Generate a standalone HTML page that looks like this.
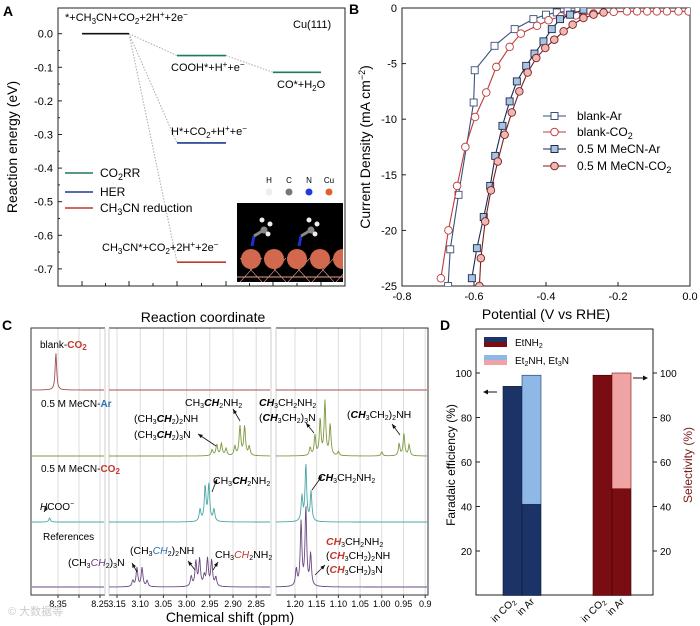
<!DOCTYPE html>
<html><head><meta charset="utf-8"><style>
body{margin:0;background:#fff}
svg{display:block;font-family:"Liberation Sans",sans-serif}
</style></head><body>
<svg id="fig" width="700" height="626" viewBox="0 0 700 626" xmlns="http://www.w3.org/2000/svg">
<rect width="700" height="626" fill="#fff"/>
<g id="A"></g>
<g id="B"></g>
<g id="C"></g>
<g id="D"></g>
</svg>
<script>
// ===== Panel A data =====
const aStates = ["*+CH3CN+CO2+2H++2e-","COOH*+H++e-","CO*+H2O","H*+CO2+H++e-","CH3CN*+CO2+2H++2e-"];
const aSlot = [0, 1, 2, 1, 1];
const aEnergy = [0.0, -0.065, -0.115, -0.325, -0.68];
const aPath = ["ref","CO2RR","CO2RR","HER","CH3CN"];
const aTicks = [0.0,-0.1,-0.2,-0.3,-0.4,-0.5,-0.6,-0.7];
// ===== Panel B data =====
const bTicksX = [-0.8,-0.6,-0.4,-0.2,0.0];
const bTicksY = [0,-5,-10,-15,-20,-25];
const blankArV = [-0.672,-0.666,-0.643,-0.601,-0.598,-0.543,-0.487,-0.435,-0.40,-0.37,-0.34,-0.31];
const blankArJ = [-25,-21.7,-16.8,-8.5,-5.6,-3.4,-1.9,-1.0,-0.6,-0.4,-0.3,-0.2];
const blankCO2V = [-0.692,-0.671,-0.647,-0.624,-0.597,-0.566,-0.538,-0.501,-0.470,-0.425,-0.393,-0.358,-0.317,-0.268,-0.212,-0.175,-0.147,-0.119,-0.092,-0.064,-0.032,-0.004];
const blankCO2J = [-24.3,-20.0,-16.0,-12.5,-9.8,-7.6,-5.3,-3.5,-2.3,-1.6,-1.1,-0.75,-0.66,-0.5,-0.35,-0.3,-0.3,-0.3,-0.3,-0.3,-0.3,-0.3];
const mecnArV = [-0.606,-0.592,-0.573,-0.555,-0.541,-0.521,-0.501,-0.481,-0.455,-0.432,-0.407,-0.384,-0.361,-0.333,-0.296];
const mecnArJ = [-24.3,-21.6,-18.8,-16.0,-13.3,-10.6,-8.4,-6.6,-5.2,-4.1,-3.0,-1.9,-1.0,-0.6,-0.15];
const mecnCO2V = [-0.585,-0.581,-0.569,-0.553,-0.534,-0.515,-0.495,-0.474,-0.451,-0.427,-0.402,-0.377,-0.351,-0.326,-0.296,-0.268,-0.240];
const mecnCO2J = [-25,-22.5,-19.2,-16.4,-13.8,-11.4,-9.4,-7.5,-5.8,-4.5,-3.6,-2.85,-2.1,-1.5,-0.9,-0.6,-0.4];
// ===== Panel C data =====
const cTicksSeg1 = [8.35,8.30,8.25];
const cTicksSeg2 = [3.15,3.10,3.05,3.00,2.95,2.90,2.85];
const cTicksSeg3 = [1.20,1.15,1.10,1.05,1.00,0.95,0.90];
const blankCO2Peaks = [8.355];
const blankCO2Heights = [37];
const mecnArPeaks = [2.945,2.935,2.925,2.915,2.896,2.885,2.875,2.865,1.165,1.154,1.142,1.131,1.119,1.10,1.00,0.96,0.949,0.937];
const mecnArHeights = [6,11,12,7,9,29,29,9,8,20,36,54,31,4,4,12,22,11];
const mecnCO2Peaks = [8.37,2.971,2.960,2.952,2.941,1.184,1.175,1.163];
const mecnCO2Heights = [4,12,35,37,12,25,57,30];
const refPeaks = [3.116,3.107,3.096,3.085,2.99,2.98,2.972,2.962,2.955,2.946,2.937,1.197,1.186,1.175,1.164];
const refHeights = [6,19,19,6,10,25,27,10,27,26,9,17,64,79,32];
// ===== Panel D data =====
const dCats = ["in CO2","in Ar"];
const feEtNH2 = [94, 41];
const feOthers = [0, 58];
const selEtNH2 = [99, 48];
const selOthers = [0, 52];
const dTicks = [20,40,60,80,100];

const NS="http://www.w3.org/2000/svg";
function el(parent, tag, attrs, text){
  const e=document.createElementNS(NS,tag);
  for(const k in attrs) e.setAttribute(k,attrs[k]);
  if(text!==undefined) e.innerHTML=text;
  parent.appendChild(e); return e;
}
const A=document.getElementById('A'),B=document.getElementById('B'),C=document.getElementById('C'),D=document.getElementById('D');

// ================= PANEL A =================
(function(){
  const yA=v=>33.7-v*336;
  const slotX=[[82,129],[177,226],[273,321]];
  let t=el(A,'text',{x:3,y:16,'font-size':14,'font-weight':'bold'},'A');
  
  let f=el(A,'rect',{x:58,y:8,width:287,height:278,fill:'none',stroke:'#222','stroke-width':1});
  
  aTicks.forEach((v,i)=>{
    const y=yA(v);
    const tk=el(A,'line',{x1:58,x2:62,y1:y,y2:y,stroke:'#222'});
    
    const lb=el(A,'text',{x:53,y:y+4,'font-size':11,'text-anchor':'end'},v.toFixed(1));
    
    if(i<aTicks.length-1){const m=el(A,'line',{x1:58,x2:60,y1:y+16.8,y2:y+16.8,stroke:'#222'});}
  });
  [82,105.5,129,153,177,201.5,226,249.5,273,297,321].forEach((x,i)=>{
    const tk=el(A,'line',{x1:x,x2:x,y1:286,y2:i%2?283:281,stroke:'#222'});
    
  });
  let yt=el(A,'text',{x:17,y:147,'font-size':14,'text-anchor':'middle',transform:'rotate(-90 17 147)'},'Reaction energy (eV)');
  
  let xt=el(A,'text',{x:203,y:322,'font-size':14,'text-anchor':'middle'},'Reaction coordinate');
  
  const col={ref:'#111',CO2RR:'#1f7a55',HER:'#1e3c8c',CH3CN:'#c0392b'};
  const conn=[[0,1],[1,2],[0,3],[0,4]];
  conn.forEach(([a,b])=>{
    const l=el(A,'line',{x1:slotX[aSlot[a]][1],y1:yA(aEnergy[a]),x2:slotX[aSlot[b]][0],y2:yA(aEnergy[b]),stroke:'#aaa','stroke-dasharray':'1.5 1.5','stroke-width':1});
    
  });
  aEnergy.forEach((e,i)=>{
    const s=slotX[aSlot[i]];
    const l=el(A,'line',{x1:s[0],x2:s[1],y1:yA(e),y2:yA(e),stroke:col[aPath[i]],'stroke-width':1.6});
    
  });
  const labs=[[65,21,'start','*+CH<tspan font-size="8" dy="3">3</tspan><tspan dy="-3">CN+CO</tspan><tspan font-size="8" dy="3">2</tspan><tspan dy="-3">+2H</tspan><tspan font-size="8" dy="-4">+</tspan><tspan dy="4">+2e</tspan><tspan font-size="8" dy="-4">−</tspan>'],
    [171,71,'start','COOH*+H<tspan font-size="8" dy="-4">+</tspan><tspan dy="4">+e</tspan><tspan font-size="8" dy="-4">−</tspan>'],
    [277,88,'start','CO*+H<tspan font-size="8" dy="3">2</tspan><tspan dy="-3">O</tspan>'],
    [171,135,'start','H*+CO<tspan font-size="8" dy="3">2</tspan><tspan dy="-3">+H</tspan><tspan font-size="8" dy="-4">+</tspan><tspan dy="4">+e</tspan><tspan font-size="8" dy="-4">−</tspan>'],
    [102,251,'start','CH<tspan font-size="8" dy="3">3</tspan><tspan dy="-3">CN*+CO</tspan><tspan font-size="8" dy="3">2</tspan><tspan dy="-3">+2H</tspan><tspan font-size="8" dy="-4">+</tspan><tspan dy="4">+2e</tspan><tspan font-size="8" dy="-4">−</tspan>'],
    [293,28,'start','Cu(111)']];
  labs.forEach(l=>{const t=el(A,'text',{x:l[0],y:l[1],'font-size':11,'text-anchor':l[2]},l[3]);});
  const leg=[[173,'#1f7a55','CO<tspan font-size="9" dy="3">2</tspan><tspan dy="-3">RR</tspan>'],[192,'#1e3c8c','HER'],[208,'#c0392b','CH<tspan font-size="9" dy="3">3</tspan><tspan dy="-3">CN reduction</tspan>']];
  leg.forEach(g=>{
    const l=el(A,'line',{x1:65,x2:93,y1:g[0],y2:g[0],stroke:g[1],'stroke-width':1.6});
    const t=el(A,'text',{x:100,y:g[0]+4,'font-size':12},g[2]);
  });
  [['H',269,'#eee'],['C',289,'#777'],['N',309,'#1e3cdc'],['Cu',329,'#e0622a']].forEach(a=>{
    const t=el(A,'text',{x:a[1],y:183,'font-size':8,'text-anchor':'middle'},a[0]);
    const c=el(A,'circle',{cx:a[1],cy:192,r:3.5,fill:a[2]});
  });
  const cp=el(A,'clipPath',{id:'insclip'});el(cp,'rect',{x:237,y:203,width:106,height:79});
  const ins=el(A,'g',{'clip-path':'url(#insclip)'});
  el(ins,'rect',{x:237,y:203,width:106,height:79,fill:'#000'});
  for(let i=0;i<5;i++){el(ins,'line',{x1:240+i*24,y1:282,x2:262+i*24,y2:258,stroke:'#e8a090','stroke-width':0.6});el(ins,'line',{x1:262+i*24,y1:282,x2:240+i*24,y2:258,stroke:'#e8a090','stroke-width':0.6});}
  el(ins,'line',{x1:237,y1:277,x2:343,y2:277,stroke:'#e8a090'});
  [251,274,297,320,343].forEach(x=>el(ins,'circle',{cx:x,cy:259,r:10,fill:'#d2694f'}));
  [[252,236],[299,236]].forEach(([x,y])=>{
    el(ins,'line',{x1:x,y1:y+10,x2:x+2,y2:y,stroke:'#2030d0','stroke-width':3});
    el(ins,'line',{x1:x+2,y1:y,x2:x+12,y2:y-6,stroke:'#888','stroke-width':3});
    el(ins,'circle',{cx:x+12,cy:y-6,r:3.5,fill:'#888'});
    el(ins,'circle',{cx:x+10,cy:y-16,r:2.5,fill:'#eee'});el(ins,'circle',{cx:x+18,cy:y-12,r:2.5,fill:'#eee'});el(ins,'circle',{cx:x+16,cy:y-2,r:2.5,fill:'#eee'});
  });
})();

// ================= PANEL B =================
(function(){
  const xB=v=>402+(v+0.8)*360, yB=j=>8-j*11.12;
  let t=el(B,'text',{x:349,y:14,'font-size':14,'font-weight':'bold'},'B');
  const f=el(B,'rect',{x:402,y:8,width:288,height:278,fill:'none',stroke:'#222'});
  bTicksX.forEach(v=>{const x=xB(v);
    const tk=el(B,'line',{x1:x,x2:x,y1:286,y2:282,stroke:'#222'});
    const lb=el(B,'text',{x:x,y:300,'font-size':11,'text-anchor':'middle'},v.toFixed(1));});
  bTicksY.forEach(v=>{const y=yB(v);
    const tk=el(B,'line',{x1:402,x2:406,y1:y,y2:y,stroke:'#222'});
    const lb=el(B,'text',{x:397,y:y+4,'font-size':11,'text-anchor':'end'},String(v));});
  let yt=el(B,'text',{x:370,y:147,'font-size':14,'text-anchor':'middle',transform:'rotate(-90 370 147)'},'Current Density (mA cm<tspan font-size="9" dy="-5">−2</tspan><tspan dy="5">)</tspan>');
  
  let xt=el(B,'text',{x:546,y:319,'font-size':14,'text-anchor':'middle'},'Potential (V vs RHE)');
  const clip=el(B,'clipPath',{id:'bclip'});el(clip,'rect',{x:402,y:8,width:288,height:278});
  const series=[
    ['blank-ar',blankArV,blankArJ,'#3a4f7a','#fff','sq'],
    ['blank-co2',blankCO2V,blankCO2J,'#c03a3a','#fff','ci'],
    ['mecn-ar',mecnArV,mecnArJ,'#1a2a50','#a9c4e0','sq'],
    ['mecn-co2',mecnCO2V,mecnCO2J,'#7a1e1e','#f0b8b4','ci']];
  series.forEach(s=>{
    const g=el(B,'g',{'clip-path':'url(#bclip)'});
    const pts=s[1].map((v,i)=>xB(v)+','+yB(s[2][i])).join(' ');
    const pl=el(g,'polyline',{points:pts,fill:'none',stroke:s[3],'stroke-width':1.1});
    s[1].forEach((v,i)=>{const x=xB(v),y=yB(s[2][i]);let m;
      if(s[5]==='sq') m=el(g,'rect',{x:x-3.5,y:y-3.5,width:7,height:7,fill:s[4],stroke:s[3],'stroke-width':0.9});
      else m=el(g,'circle',{cx:x,cy:y,r:3.8,fill:s[4],stroke:s[3],'stroke-width':0.9});
      });
  });
  const leg=[[116,'blank-Ar',0],[132,'blank-CO<tspan font-size="9" dy="3">2</tspan>',1],[149,'0.5 M MeCN-Ar',2],[166,'0.5 M MeCN-CO<tspan font-size="9" dy="3">2</tspan>',3]];
  leg.forEach(l=>{const s=series[l[2]];
    const g=el(B,'g',{});
    el(g,'line',{x1:543,x2:566,y1:l[0],y2:l[0],stroke:s[3],'stroke-width':1.1});
    if(s[5]==='sq') el(g,'rect',{x:551,y:l[0]-3.5,width:7,height:7,fill:s[4],stroke:s[3]});else el(g,'circle',{cx:554.5,cy:l[0],r:3.8,fill:s[4],stroke:s[3]});
    el(g,'text',{x:577,y:l[0]+4,'font-size':12},l[1]);});
})();

// ================= PANEL C =================
(function(){
  let t=el(C,'text',{x:2,y:330,'font-size':14,'font-weight':'bold'},'C');
  const px=p=>{ if(p>=8) return 58+(8.35-p)/0.1*42; if(p>=2.7) return 117+(3.15-p)/0.05*23.2; return 295+(1.20-p)/0.05*21.7; };
  const segs=[[31,105,8.42,8.22],[108,271,3.19,2.80],[275,428,1.23,0.89]];
  [...cTicksSeg1,...cTicksSeg2,...cTicksSeg3].forEach(p=>{const x=px(p);
    const g=el(C,'line',{x1:x,x2:x,y1:328,y2:595,stroke:'#ddd','stroke-width':1});});
  const f=el(C,'rect',{x:31,y:328,width:397,height:267,fill:'none',stroke:'#333'});
  [[106,107],[272,274]].forEach(b=>{const r=el(C,'rect',{x:b[0]-1,y:326,width:b[1]-b[0]+3,height:272,fill:'#fff'});
    el(C,'line',{x1:b[0]-1,x2:b[0]-1,y1:328,y2:595,stroke:'#ccc'});el(C,'line',{x1:b[1]+2,x2:b[1]+2,y1:328,y2:595,stroke:'#ccc'});});
  const tickLab=(arr)=>arr.forEach((p,i)=>{const x=px(p);
    const tk=el(C,'line',{x1:x,x2:x,y1:595,y2:598,stroke:'#333'});
    if(!(arr===cTicksSeg1&&i===1)){const lb=el(C,'text',{x:x,y:607,'font-size':9,'text-anchor':'middle'},p.toFixed(2).replace('0.90','0.9'));}});
  tickLab(cTicksSeg1);tickLab(cTicksSeg2);tickLab(cTicksSeg3);
  let xt=el(C,'text',{x:230,y:622,'font-size':14,'text-anchor':'middle'},'Chemical shift (ppm)');
  const spectra=[['blank-co2',blankCO2Peaks,blankCO2Heights,390,'#a0524f'],['mecn-ar',mecnArPeaks,mecnArHeights,456,'#7d9a40'],['mecn-co2',mecnCO2Peaks,mecnCO2Heights,522,'#4aa8a4'],['references',refPeaks,refHeights,587,'#6a4a80']];
  const w=0.0022;
  spectra.forEach(s=>{
    const g=el(C,'g',{});
    segs.forEach(sg=>{
      const pts=[];
      for(let x=sg[0]+1;x<=sg[1]-1;x+=0.5){
        const pp = sg[2]>5 ? 8.35-(x-58)/42*0.1 : (sg[2]>2.5 ? 3.15-(x-117)/23.2*0.05 : 1.20-(x-295)/21.7*0.05);
        let y=0; s[1].forEach((pk,i)=>{y+=s[2][i]/(1+Math.pow((pp-pk)/w,2));});
        pts.push(x.toFixed(1)+','+(s[3]-y).toFixed(1));
      }
      el(g,'polyline',{points:pts.join(' '),fill:'none',stroke:s[4],'stroke-width':0.9});
    });
  });
  const L=(x,y,html,size,name)=>{const t=el(C,'text',{x:x,y:y,'font-size':size||10.5},html);};
  const s3='<tspan font-size="7" dy="2">3</tspan><tspan dy="-2">',s2='<tspan font-size="7" dy="2">2</tspan><tspan dy="-2">';
  L(40,348,'blank-<tspan fill="#c0392b" font-weight="bold">CO</tspan><tspan fill="#c0392b" font-weight="bold" font-size="8" dy="2">2</tspan>',10,'c-label-blank-co2');
  L(41,407,'0.5 M MeCN-<tspan fill="#2a6fb0" font-weight="bold">Ar</tspan>',10,'c-label-mecn-ar');
  L(41,472,'0.5 M MeCN-<tspan fill="#c0392b" font-weight="bold">CO</tspan><tspan fill="#c0392b" font-weight="bold" font-size="8" dy="2">2</tspan>',10,'c-label-mecn-co2');
  L(40,510,'<tspan font-style="italic">H</tspan>COO<tspan font-size="7" dy="-4">−</tspan>',10,'c-label-hcoo');
  L(43,540,'References',10,'c-label-references');
  L(185,406,'CH'+s3+'<tspan font-weight="bold" font-style="italic">CH</tspan></tspan>'+s2+'NH</tspan>'+s2+'</tspan>');
  L(134,422,'(CH'+s3+'<tspan font-weight="bold" font-style="italic">CH</tspan></tspan>'+s2+')</tspan>'+s2+'NH</tspan>');
  L(134,438,'(CH'+s3+'<tspan font-weight="bold" font-style="italic">CH</tspan></tspan>'+s2+')</tspan>'+s3+'N</tspan>');
  L(259,406,'<tspan font-weight="bold" font-style="italic">CH</tspan>'+s3+'CH</tspan>'+s2+'NH</tspan>'+s2+'</tspan>');
  L(259,421,'(<tspan font-weight="bold" font-style="italic">CH</tspan>'+s3+'CH</tspan>'+s2+')</tspan>'+s3+'N</tspan>');
  L(347,418,'(<tspan font-weight="bold" font-style="italic">CH</tspan>'+s3+'CH</tspan>'+s2+')</tspan>'+s2+'NH</tspan>');
  L(213,484,'CH'+s3+'<tspan font-weight="bold" font-style="italic">CH</tspan></tspan>'+s2+'NH</tspan>'+s2+'</tspan>');
  L(318,481,'<tspan font-weight="bold" font-style="italic">CH</tspan>'+s3+'CH</tspan>'+s2+'NH</tspan>'+s2+'</tspan>');
  L(130,554,'(CH'+s3+'<tspan fill="#2a6fb0" font-style="italic">CH</tspan></tspan>'+s2+')</tspan>'+s2+'NH</tspan>');
  L(68,566,'(CH'+s3+'<tspan fill="#6a3a80" font-style="italic">CH</tspan></tspan>'+s2+')</tspan>'+s3+'N</tspan>');
  L(215,558,'CH'+s3+'<tspan fill="#c0392b" font-style="italic">CH</tspan></tspan>'+s2+'NH</tspan>'+s2+'</tspan>');
  L(326,545,'<tspan fill="#c0392b" font-weight="bold" font-style="italic">CH</tspan>'+s3+'CH</tspan>'+s2+'NH</tspan>'+s2+'</tspan>');
  L(326,559,'(<tspan fill="#c0392b" font-weight="bold" font-style="italic">CH</tspan>'+s3+'CH</tspan>'+s2+')</tspan>'+s2+'NH</tspan>');
  L(326,573,'(<tspan fill="#c0392b" font-weight="bold" font-style="italic">CH</tspan>'+s3+'CH</tspan>'+s2+')</tspan>'+s3+'N</tspan>');
  const arrows=[[233,409,240,421],[198,434,216,446],[306,423,314,433],[392,424,400,435],[217,479,212,492],[322,476,312,490],[44,512,47,507],[188,561,195,570],[132,563,137,572],[218,562,213,570],[325,565,315,575]];
  arrows.forEach(a=>{const g=el(C,'g',{});
    el(g,'line',{x1:a[0],y1:a[1],x2:a[2],y2:a[3],stroke:'#111','stroke-width':0.8});
    const ang=Math.atan2(a[3]-a[1],a[2]-a[0]);const hx=a[0],hy=a[1];
    el(g,'polygon',{points:`${hx},${hy} ${hx+5*Math.cos(ang+0.4)},${hy+5*Math.sin(ang+0.4)} ${hx+5*Math.cos(ang-0.4)},${hy+5*Math.sin(ang-0.4)}`,fill:'#111'});});
  const wm=el(C,'text',{x:8,y:615,'font-size':11,fill:'#ccc'},'© 大数据等');
})();

// ================= PANEL D =================
(function(){
  const yD=v=>595.5-v*2.225;
  let t=el(D,'text',{x:440,y:330,'font-size':14,'font-weight':'bold'},'D');
  const f=el(D,'rect',{x:476,y:329,width:177,height:266,fill:'none',stroke:'#222'});
  dTicks.forEach(v=>{const y=yD(v);
    let tk=el(D,'line',{x1:476,x2:480,y1:y,y2:y,stroke:'#222'});
    let lb=el(D,'text',{x:472,y:y+4,'font-size':10,'text-anchor':'end'},v);
    tk=el(D,'line',{x1:653,x2:657,y1:y,y2:y,stroke:'#222'});
    lb=el(D,'text',{x:660,y:y+4,'font-size':10},v);});
  let yl=el(D,'text',{x:455,y:465,'font-size':12,'text-anchor':'middle',transform:'rotate(-90 455 465)'},'Faradaic efficiency (%)');
  let yr=el(D,'text',{x:692,y:465,'font-size':12,fill:'#7a1a1a','text-anchor':'middle',transform:'rotate(-90 692 465)'},'Selectivity (%)');
  const feX=[503,522], selX=[593,612], bw=19;
  dCats.forEach((c,i)=>{
    let r=el(D,'rect',{x:feX[i],y:yD(feEtNH2[i]),width:bw,height:yD(0)-yD(feEtNH2[i]),fill:'#1b3366',stroke:'#0d1a36','stroke-width':0.6});
    if(feOthers[i]>0){r=el(D,'rect',{x:feX[i],y:yD(feEtNH2[i]+feOthers[i]),width:bw,height:yD(feEtNH2[i])-yD(feEtNH2[i]+feOthers[i]),fill:'#8fb8e6',stroke:'#1b3366','stroke-width':0.6});}
    r=el(D,'rect',{x:selX[i],y:yD(selEtNH2[i]),width:bw,height:yD(0)-yD(selEtNH2[i]),fill:'#7a0d12',stroke:'#3a0508','stroke-width':0.6});
    if(selOthers[i]>0){r=el(D,'rect',{x:selX[i],y:yD(selEtNH2[i]+selOthers[i]),width:bw,height:yD(selEtNH2[i])-yD(selEtNH2[i]+selOthers[i]),fill:'#f0a3a3',stroke:'#7a0d12','stroke-width':0.6});}
  });
  const xl=[[512,'in CO<tspan font-size="7" dy="2">2</tspan>'],[531,'in Ar'],[602,'in CO<tspan font-size="7" dy="2">2</tspan>'],[621,'in Ar']];
  xl.forEach(l=>{const t=el(D,'text',{x:l[0]+4,y:602,'font-size':10,'text-anchor':'end',transform:`rotate(-45 ${l[0]+4} 602)`},l[1]);});
  const lg=el(D,'g',{});
  el(lg,'rect',{x:484,y:337,width:23,height:5,fill:'#1b3366'});el(lg,'rect',{x:484,y:342,width:23,height:5,fill:'#7a0d12'});
  el(lg,'rect',{x:484,y:355,width:23,height:5,fill:'#8fb8e6'});el(lg,'rect',{x:484,y:360,width:23,height:5,fill:'#f0a3a3'});
  el(lg,'text',{x:515,y:346,'font-size':10},'EtNH<tspan font-size="7" dy="2">2</tspan>');
  el(lg,'text',{x:515,y:364,'font-size':10},'Et<tspan font-size="7" dy="2">2</tspan><tspan dy="-2">NH, Et</tspan><tspan font-size="7" dy="2">3</tspan><tspan dy="-2">N</tspan>');
  let a=el(D,'g',{});
  el(a,'line',{x1:484,x2:497,y1:392,y2:392,stroke:'#111'});el(a,'polygon',{points:'483,392 488,389.5 488,394.5',fill:'#111'});
  a=el(D,'g',{});
  el(a,'line',{x1:633,x2:646,y1:378,y2:378,stroke:'#111'});el(a,'polygon',{points:'648,378 643,375.5 643,380.5',fill:'#111'});
})();
</script>
</body></html>
